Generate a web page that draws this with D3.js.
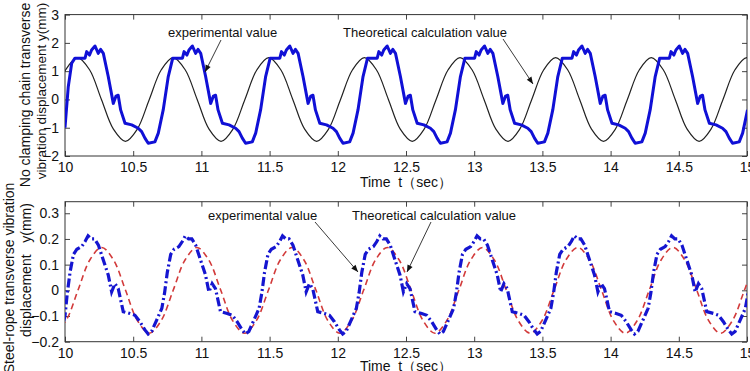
<!DOCTYPE html>
<html>
<head>
<meta charset="utf-8">
<script src="https://cdn.jsdelivr.net/npm/d3@7"></script>
<style>
  body { margin: 0; background: #fff; }
  svg { display: block; font-family: "Liberation Sans", Arial, sans-serif; }
</style>
</head>
<body>
<svg id="chart" width="750" height="371"></svg>
<script>
const chainTheory = [
  [9.917, 0], [10.005, 1.05], [10.092, 1.48], [10.180, 1.05], [10.267, 0], [10.355, -1.05], [10.443, -1.48], [10.530, -1.05],
  [10.618, 0], [10.706, 1.05], [10.793, 1.48], [10.881, 1.05], [10.969, 0], [11.056, -1.05], [11.144, -1.48], [11.231, -1.05],
  [11.319, 0], [11.407, 1.05], [11.494, 1.48], [11.582, 1.05], [11.670, 0], [11.757, -1.05], [11.845, -1.48], [11.932, -1.05],
  [12.020, 0], [12.108, 1.05], [12.195, 1.48], [12.283, 1.05], [12.371, 0], [12.458, -1.05], [12.546, -1.48], [12.633, -1.05],
  [12.721, 0], [12.809, 1.05], [12.896, 1.48], [12.984, 1.05], [13.072, 0], [13.159, -1.05], [13.247, -1.48], [13.334, -1.05],
  [13.422, 0], [13.510, 1.05], [13.597, 1.48], [13.685, 1.05], [13.773, 0], [13.860, -1.05], [13.948, -1.48], [14.035, -1.05],
  [14.123, 0], [14.211, 1.05], [14.298, 1.48], [14.386, 1.05], [14.474, 0], [14.561, -1.05], [14.649, -1.48], [14.736, -1.05],
  [14.824, 0], [14.912, 1.05], [14.999, 1.48], [15.087, 1.05], [15.175, 0]
];

// Chain panel: experimental (blue)
const chainExperiment = [
  [10.000, -1.00], [10.024, 0.45], [10.049, 1.28], [10.073, 1.46], [10.147, 1.46], [10.159, 1.69], [10.180, 1.57], [10.195, 1.75],
  [10.220, 1.89], [10.244, 1.63], [10.261, 1.77], [10.281, 1.63], [10.317, 0.81], [10.354, -0.14], [10.374, 0.12], [10.390, 0.15],
  [10.408, -0.37], [10.440, -0.84], [10.489, -0.90], [10.537, -1.02], [10.562, -1.14], [10.586, -1.37],
  [10.610, -1.55], [10.659, -1.50], [10.684, -1.19], [10.720, -0.37], [10.757, 0.81], [10.790, 1.46], [10.861, 1.46], [10.873, 1.69],
  [10.894, 1.57], [10.909, 1.75], [10.934, 1.89], [10.958, 1.63], [10.975, 1.77], [10.995, 1.63], [11.031, 0.81], [11.068, -0.14],
  [11.088, 0.12], [11.104, 0.15], [11.122, -0.37], [11.154, -0.84], [11.203, -0.90], [11.251, -1.02], [11.276, -1.14], [11.300, -1.37],
  [11.324, -1.55], [11.373, -1.50], [11.398, -1.19], [11.434, -0.37], [11.471, 0.81], [11.504, 1.46], [11.575, 1.46], [11.587, 1.69],
  [11.608, 1.57], [11.623, 1.75], [11.648, 1.89], [11.672, 1.63], [11.689, 1.77], [11.709, 1.63], [11.745, 0.81], [11.782, -0.14],
  [11.802, 0.12], [11.818, 0.15], [11.836, -0.37], [11.868, -0.84], [11.917, -0.90], [11.965, -1.02], [11.990, -1.14], [12.014, -1.37],
  [12.038, -1.55], [12.087, -1.50], [12.112, -1.19], [12.148, -0.37], [12.185, 0.81], [12.218, 1.46], [12.289, 1.46], [12.301, 1.69],
  [12.322, 1.57], [12.337, 1.75], [12.362, 1.89], [12.386, 1.63], [12.403, 1.77], [12.423, 1.63], [12.459, 0.81], [12.496, -0.14],
  [12.516, 0.12], [12.532, 0.15], [12.550, -0.37], [12.582, -0.84], [12.631, -0.90], [12.679, -1.02], [12.704, -1.14], [12.728, -1.37],
  [12.752, -1.55], [12.801, -1.50], [12.826, -1.19], [12.862, -0.37], [12.899, 0.81], [12.932, 1.46], [13.003, 1.46], [13.015, 1.69],
  [13.036, 1.57], [13.051, 1.75], [13.076, 1.89], [13.100, 1.63], [13.117, 1.77], [13.137, 1.63], [13.173, 0.81], [13.210, -0.14],
  [13.230, 0.12], [13.246, 0.15], [13.264, -0.37], [13.296, -0.84], [13.345, -0.90], [13.393, -1.02], [13.418, -1.14], [13.442, -1.37],
  [13.466, -1.55], [13.515, -1.50], [13.540, -1.19], [13.576, -0.37], [13.613, 0.81], [13.646, 1.46], [13.717, 1.46], [13.729, 1.69],
  [13.750, 1.57], [13.765, 1.75], [13.790, 1.89], [13.814, 1.63], [13.831, 1.77], [13.851, 1.63], [13.887, 0.81], [13.924, -0.14],
  [13.944, 0.12], [13.960, 0.15], [13.978, -0.37], [14.010, -0.84], [14.059, -0.90], [14.107, -1.02], [14.132, -1.14], [14.156, -1.37],
  [14.180, -1.55], [14.229, -1.50], [14.254, -1.19], [14.290, -0.37], [14.327, 0.81], [14.360, 1.46], [14.431, 1.46], [14.443, 1.69],
  [14.464, 1.57], [14.479, 1.75], [14.504, 1.89], [14.528, 1.63], [14.545, 1.77], [14.565, 1.63], [14.601, 0.81], [14.638, -0.14],
  [14.658, 0.12], [14.674, 0.15], [14.692, -0.37], [14.724, -0.84], [14.773, -0.90], [14.821, -1.02], [14.846, -1.14], [14.870, -1.37],
  [14.894, -1.55], [14.943, -1.50], [14.968, -1.19], [15.004, -0.37]
];

// Rope panel: theoretical (red dashed)
const ropeTheory = [
  [9.920, -0.167], [10.007, -0.118], [10.095, 0], [10.182, 0.118], [10.269, 0.167], [10.356, 0.118], [10.444, 0], [10.531, -0.118],
  [10.618, -0.167], [10.705, -0.118], [10.793, 0], [10.880, 0.118], [10.967, 0.167], [11.054, 0.118], [11.142, 0], [11.229, -0.118],
  [11.316, -0.167], [11.403, -0.118], [11.491, 0], [11.578, 0.118], [11.665, 0.167], [11.752, 0.118], [11.840, 0], [11.927, -0.118],
  [12.014, -0.167], [12.101, -0.118], [12.189, 0], [12.276, 0.118], [12.363, 0.167], [12.450, 0.118], [12.538, 0], [12.625, -0.118],
  [12.712, -0.167], [12.799, -0.118], [12.887, 0], [12.974, 0.118], [13.061, 0.167], [13.148, 0.118], [13.236, 0], [13.323, -0.118],
  [13.410, -0.167], [13.497, -0.118], [13.585, 0], [13.672, 0.118], [13.759, 0.167], [13.846, 0.118], [13.934, 0], [14.021, -0.118],
  [14.108, -0.167], [14.195, -0.118], [14.283, 0], [14.370, 0.118], [14.457, 0.167], [14.544, 0.118], [14.632, 0], [14.719, -0.118],
  [14.806, -0.167], [14.893, -0.118], [14.981, 0], [15.068, 0.118], [15.155, 0.167]
];

// Rope panel: experimental (blue dash-dot)
const ropeExperiment = [
  [9.990, -0.120], [10.000, -0.100], [10.017, -0.010], [10.037, 0.070], [10.062, 0.140], [10.087, 0.160], [10.122, 0.170], [10.147, 0.190],
  [10.169, 0.212], [10.193, 0.200], [10.217, 0.200], [10.245, 0.176], [10.282, 0.116], [10.317, 0.060], [10.342, -0.006], [10.366, 0.026],
  [10.390, 0.007], [10.427, -0.083], [10.476, -0.090], [10.513, -0.097], [10.549, -0.122], [10.586, -0.154],
  [10.610, -0.170], [10.635, -0.160], [10.672, -0.116], [10.710, -0.070], [10.730, -0.010], [10.750, 0.070], [10.775, 0.140], [10.800, 0.160],
  [10.835, 0.170], [10.860, 0.190], [10.882, 0.212], [10.906, 0.200], [10.930, 0.200], [10.958, 0.176], [10.995, 0.116], [11.030, 0.060],
  [11.055, -0.006], [11.079, 0.026], [11.103, 0.007], [11.140, -0.083], [11.189, -0.090], [11.226, -0.097], [11.262, -0.122], [11.299, -0.154],
  [11.323, -0.170], [11.348, -0.160], [11.385, -0.116], [11.423, -0.070], [11.443, -0.010], [11.463, 0.070], [11.488, 0.140], [11.513, 0.160],
  [11.548, 0.170], [11.573, 0.190], [11.595, 0.212], [11.619, 0.200], [11.643, 0.200], [11.671, 0.176], [11.708, 0.116], [11.743, 0.060],
  [11.768, -0.006], [11.792, 0.026], [11.816, 0.007], [11.853, -0.083], [11.902, -0.090], [11.939, -0.097], [11.975, -0.122], [12.012, -0.154],
  [12.036, -0.170], [12.061, -0.160], [12.098, -0.116], [12.136, -0.070], [12.156, -0.010], [12.176, 0.070], [12.201, 0.140], [12.226, 0.160],
  [12.261, 0.170], [12.286, 0.190], [12.308, 0.212], [12.332, 0.200], [12.356, 0.200], [12.384, 0.176], [12.421, 0.116], [12.456, 0.060],
  [12.481, -0.006], [12.505, 0.026], [12.529, 0.007], [12.566, -0.083], [12.615, -0.090], [12.652, -0.097], [12.688, -0.122], [12.725, -0.154],
  [12.749, -0.170], [12.774, -0.160], [12.811, -0.116], [12.849, -0.070], [12.869, -0.010], [12.889, 0.070], [12.914, 0.140], [12.939, 0.160],
  [12.974, 0.170], [12.999, 0.190], [13.021, 0.212], [13.045, 0.200], [13.069, 0.200], [13.097, 0.176], [13.134, 0.116], [13.169, 0.060],
  [13.194, -0.006], [13.218, 0.026], [13.242, 0.007], [13.279, -0.083], [13.328, -0.090], [13.365, -0.097], [13.401, -0.122], [13.438, -0.154],
  [13.462, -0.170], [13.487, -0.160], [13.524, -0.116], [13.562, -0.070], [13.582, -0.010], [13.602, 0.070], [13.627, 0.140], [13.652, 0.160],
  [13.687, 0.170], [13.712, 0.190], [13.734, 0.212], [13.758, 0.200], [13.782, 0.200], [13.810, 0.176], [13.847, 0.116], [13.882, 0.060],
  [13.907, -0.006], [13.931, 0.026], [13.955, 0.007], [13.992, -0.083], [14.041, -0.090], [14.078, -0.097], [14.114, -0.122], [14.151, -0.154],
  [14.175, -0.170], [14.200, -0.160], [14.237, -0.116], [14.275, -0.070], [14.295, -0.010], [14.315, 0.070], [14.340, 0.140], [14.365, 0.160],
  [14.400, 0.170], [14.425, 0.190], [14.447, 0.212], [14.471, 0.200], [14.495, 0.200], [14.523, 0.176], [14.560, 0.116], [14.595, 0.060],
  [14.620, -0.006], [14.644, 0.026], [14.668, 0.007], [14.705, -0.083], [14.754, -0.090], [14.791, -0.097], [14.827, -0.122], [14.864, -0.154],
  [14.888, -0.170], [14.913, -0.160], [14.950, -0.116], [14.988, -0.070], [15.008, -0.010]
];

const timeTicks = [10, 10.5, 11, 11.5, 12, 12.5, 13, 13.5, 14, 14.5, 15];
const chainTicks = [-2, -1, 0, 1, 2, 3];
const ropeTicks = [-0.2, -0.1, 0, 0.1, 0.2, 0.3];

const svg = d3.select("#chart");
const defs = svg.append("defs");

defs.append("marker")
  .attr("id", "arrow")
  .attr("viewBox", "0 0 10 10")
  .attr("refX", 10).attr("refY", 5)
  .attr("markerWidth", 9).attr("markerHeight", 7)
  .attr("markerUnits", "userSpaceOnUse")
  .attr("orient", "auto")
  .append("path")
  .attr("d", "M0,1 L10,5 L0,9 Z")
  .attr("fill", "#111");

const left = 65, right = 747;
const x = d3.scaleLinear().domain([10, 15]).range([left, right]);

// one MATLAB-style panel: box, inward ticks on all sides, labels on left/bottom
function panel(id, yScale, yTicks, top, bottom) {
  const g = svg.append("g");

  defs.append("clipPath").attr("id", "clip-" + id)
    .append("rect")
    .attr("x", left).attr("y", top)
    .attr("width", right - left).attr("height", bottom - top);

  const xb = g.append("g").attr("transform", `translate(0,${bottom})`)
    .call(d3.axisBottom(x).tickValues(timeTicks).tickSizeInner(-5).tickSizeOuter(0).tickPadding(6).tickFormat(d3.format("")));
  const xt = g.append("g").attr("transform", `translate(0,${top})`)
    .call(d3.axisTop(x).tickValues(timeTicks).tickSizeInner(-5).tickSizeOuter(0).tickFormat(""));
  const yl = g.append("g").attr("transform", `translate(${left},0)`)
    .call(d3.axisLeft(yScale).tickValues(yTicks).tickSizeInner(-5).tickSizeOuter(0).tickPadding(6).tickFormat(d3.format("")));
  const yr = g.append("g").attr("transform", `translate(${right},0)`)
    .call(d3.axisRight(yScale).tickValues(yTicks).tickSizeInner(-5).tickSizeOuter(0).tickFormat(""));

  [xb, xt, yl, yr].forEach(a => {
    a.select(".domain").remove();
    a.selectAll("line").attr("stroke", "#444");
    a.selectAll("text").attr("fill", "#111").style("font-size", "14px")
      .style("font-family", '"Liberation Sans", Arial, sans-serif');
  });

  g.append("rect")
    .attr("x", left).attr("y", top)
    .attr("width", right - left).attr("height", bottom - top)
    .attr("fill", "none").attr("stroke", "#333").attr("stroke-width", 1);

  return svg.append("g").attr("clip-path", `url(#clip-${id})`);
}

// ----- top panel: chain -----
const yChain = d3.scaleLinear().domain([-2, 3]).range([156, 14.6]);
const chainPlot = panel("chain", yChain, chainTicks, 14.6, 156);

chainPlot.append("path")
  .attr("d", d3.line().x(d => x(d[0])).y(d => yChain(d[1])).curve(d3.curveCatmullRom)(chainTheory))
  .attr("fill", "none").attr("stroke", "#222").attr("stroke-width", 1.2);

chainPlot.append("path")
  .attr("d", d3.line().x(d => x(d[0])).y(d => yChain(d[1]))(chainExperiment))
  .attr("fill", "none").attr("stroke", "#1010d6").attr("stroke-width", 3)
  .attr("stroke-linejoin", "round");

// ----- bottom panel: steel rope -----
const yRope = d3.scaleLinear().domain([-0.2, 0.345]).range([341.7, 201.7]);
const ropePlot = panel("rope", yRope, ropeTicks, 201.7, 341.7);

ropePlot.append("path")
  .attr("d", d3.line().x(d => x(d[0])).y(d => yRope(d[1])).curve(d3.curveCatmullRom)(ropeTheory))
  .attr("fill", "none").attr("stroke", "#d23a3a").attr("stroke-width", 1.6)
  .attr("stroke-dasharray", "6,4");

ropePlot.append("path")
  .attr("d", d3.line().x(d => x(d[0])).y(d => yRope(d[1]))(ropeExperiment))
  .attr("fill", "none").attr("stroke", "#1515d0").attr("stroke-width", 3.2)
  .attr("stroke-dasharray", "9,3,2,3");

// ----- titles -----
const text = (x0, y0, s, size, anchor, rot) => {
  const t = svg.append("text")
    .attr("fill", "#111").style("font-size", size + "px")
    .attr("text-anchor", anchor || "start")
    .style("white-space", "pre")
    .text(s);
  if (rot) t.attr("transform", `translate(${x0},${y0}) rotate(-90)`);
  else t.attr("x", x0).attr("y", y0);
  return t;
};

text(406, 187, "Time  t（sec）", 14, "middle");
text(406, 371, "Time  t（sec）", 14, "middle");

text(30, 95, "No clamping chain transverse", 14, "middle", true);
text(46, 91, "vibration displacement y(mm)", 13.5, "middle", true);
text(14, 278, "Steel-rope transverse vibration", 14, "middle", true);
text(31, 270, "displacement   y(mm)", 14, "middle", true);

// ----- annotations -----
text(168, 37, "experimental value", 13);
text(343, 37, "Theoretical calculation value", 13);
text(208, 220, "experimental value", 13);
text(352, 220, "Theoretical calculation value", 13);

const arrows = [
  [[221, 40], [205, 72]],
  [[503, 39], [533, 84]],
  [[315, 222], [358, 272]],
  [[431, 222], [407, 272]]
];
svg.append("g").selectAll("line").data(arrows).join("line")
  .attr("x1", d => d[0][0]).attr("y1", d => d[0][1])
  .attr("x2", d => d[1][0]).attr("y2", d => d[1][1])
  .attr("stroke", "#222").attr("stroke-width", 0.9)
  .attr("marker-end", "url(#arrow)");
</script>
</body>
</html>
